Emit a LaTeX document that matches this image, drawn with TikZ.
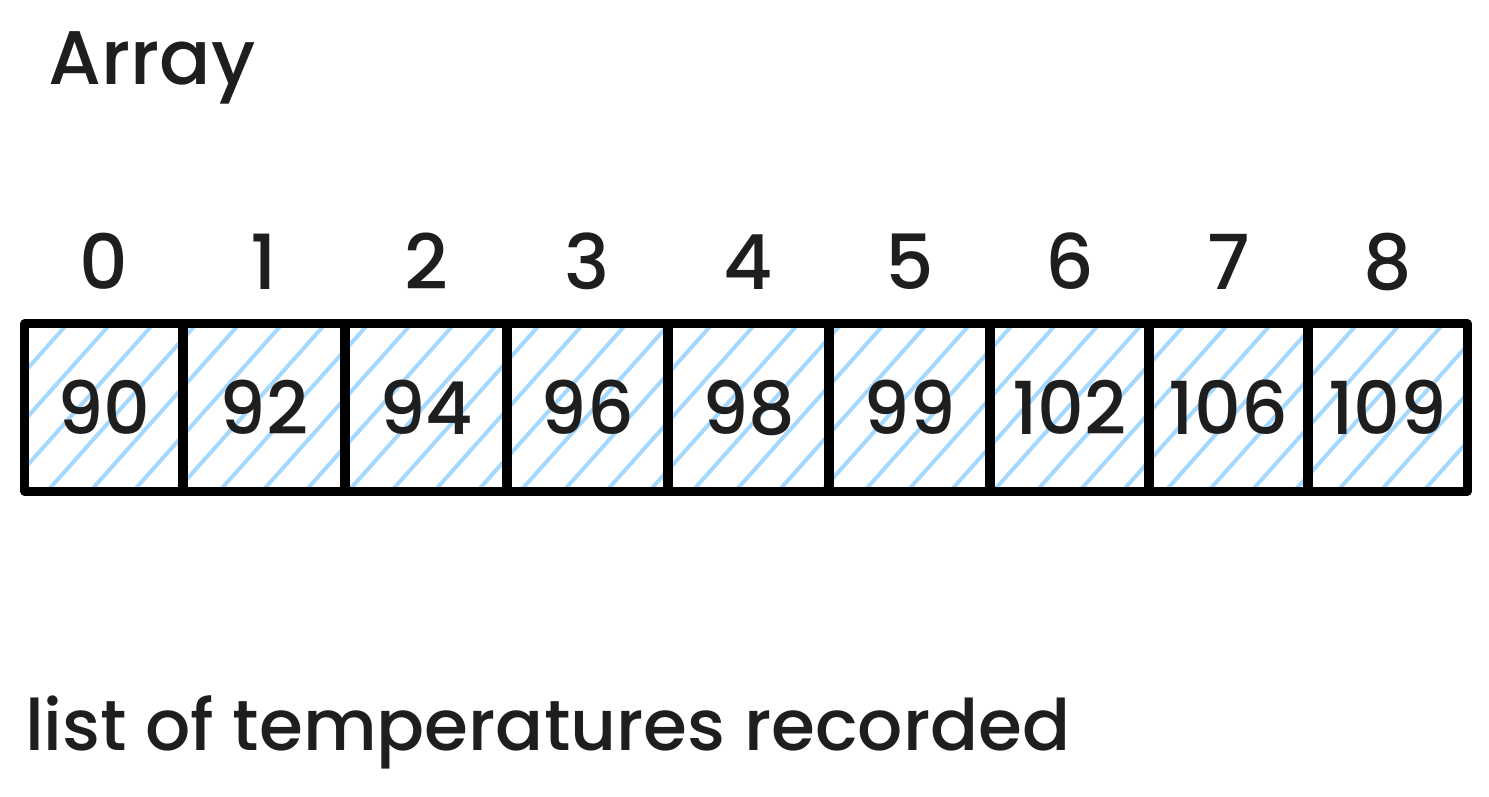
\documentclass[tikz,border=0pt]{standalone}
\usepackage{fontspec}
\IfFontExistsTF{Poppins Medium}{\setmainfont{Poppins Medium}}{\setmainfont{Poppins}}
\usetikzlibrary{backgrounds}
\definecolor{hatchblue}{HTML}{A5D8FF}
\definecolor{inkblack}{HTML}{1E1E1E}
\begin{document}
\begin{tikzpicture}[x=1pt,y=1pt,
  cell/.style={draw=none, inner sep=0pt, text=inkblack,
    font=\fontsize{73}{80}\selectfont},
  border/.style={draw=black, line width=9pt, line join=round},
  idx/.style={anchor=base, inner sep=0pt, text=inkblack,
    font=\fontsize{76}{80}\selectfont},
  caption/.style={anchor=base west, inner sep=0pt, text=inkblack},
  hatch/.style={draw=hatchblue, line width=4pt}]
\useasboundingbox (0,0) rectangle (1489,796);
\foreach \i/\l/\r/\v in {0/25/183/90,1/183/345/92,2/345/507/94,3/507/668/96,4/668/829/98,5/829/990/99,6/990/1149/102,7/1149/1308/106,8/1308/1467/109}{
  \node[cell, minimum width=\r pt-\l pt, minimum height=167pt] (b\i) at ({(\l+\r)/2},388.5) {\v};
  \node[idx] (i\i) at ([yshift=34pt]b\i.north) {\i};
}
\begin{scope}[on background layer]
  \clip (b0.south west) rectangle (b8.north east);
  \foreach \k in {-6,...,36}{
    \draw[hatch] (\k*43,300) -- ++(180,202);
  }
\end{scope}
\foreach \i in {0,...,8}{
  \draw[border] (b\i.south west) rectangle (b\i.north east);
}
\node[caption, font=\fontsize{76}{80}\selectfont] (title) at (48,711) {Array};
\node[caption, font=\fontsize{71}{80}\selectfont] (note) at (25,46) {list of temperatures recorded};
\end{tikzpicture}
\end{document}
